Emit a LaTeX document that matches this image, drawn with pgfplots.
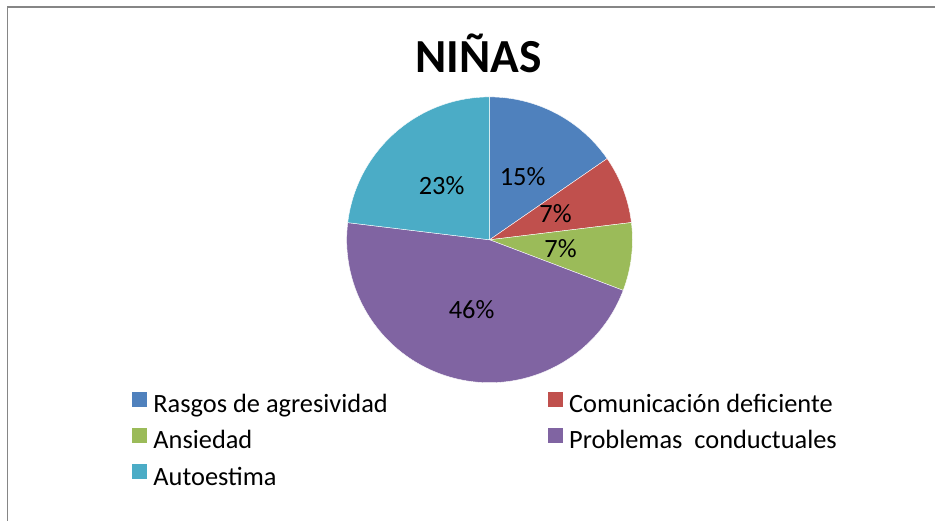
\documentclass[border=0pt]{standalone}
\usepackage{pgfplots}
\usepackage{pgfplotstable}
\pgfplotsset{compat=1.18}
\usepackage{fontspec}
\setmainfont{Carlito}
\definecolor{c1}{HTML}{4F81BD}
\definecolor{c2}{HTML}{C0504D}
\definecolor{c3}{HTML}{9BBB59}
\definecolor{c4}{HTML}{8064A2}
\definecolor{c5}{HTML}{4BACC6}
\definecolor{frame}{HTML}{868686}

\pgfplotstableread{
value label
15.38 15
7.69 7
7.69 7
46.15 46
23.08 23
}\pietable

\newcommand\getval[2]{\pgfplotstablegetelem{#1}{value}\of\pietable\global\let#2\pgfplotsretval}
\newcommand\getlab[2]{\pgfplotstablegetelem{#1}{label}\of\pietable\global\let#2\pgfplotsretval}
\getval{0}\vA \getval{1}\vB \getval{2}\vC \getval{3}\vD \getval{4}\vE
\getlab{0}\lA \getlab{1}\lB \getlab{2}\lC \getlab{3}\lD \getlab{4}\lE
\pgfmathsetmacro\tot{\vA+\vB+\vC+\vD+\vE}
\pgfmathsetmacro\aA{90}
\pgfmathsetmacro\aB{\aA-360*(\vA/\tot)}
\pgfmathsetmacro\aC{\aB-360*(\vB/\tot)}
\pgfmathsetmacro\aD{\aC-360*(\vC/\tot)}
\pgfmathsetmacro\aE{\aD-360*(\vD/\tot)}
\pgfmathsetmacro\aF{\aE-360*(\vE/\tot)}
\newcommand\lblfont{\fontsize{19.8pt}{23pt}\selectfont}

\begin{document}
\begin{tikzpicture}
\begin{axis}[
  x=0.75pt, y=0.75pt,
  xmin=0, xmax=936, ymin=0, ymax=521,
  hide axis, clip=false,
  legend columns=2,
  legend cell align=left,
  legend style={
    at={(axis cs:132,129)}, anchor=north west,
    draw=none, fill=none, inner sep=0pt, outer sep=0pt,
    font=\lblfont,
    nodes={inner sep=0pt, text height=14pt, text depth=4pt},
    row sep=7.6pt,
    /tikz/every odd column/.append style={column sep=5.25pt},
    /tikz/every even column/.append style={column sep=120pt},
  },
]
\path (axis cs:0,0) rectangle (axis cs:936,521);
\draw[frame, line width=1.2pt] (axis cs:7.7,0) -- (axis cs:7.7,514) -- (axis cs:936,514);

\fill[c1, draw=white, line width=0.3pt] (axis cs:490,281) -- ([shift={(\aA:107.25pt)}]axis cs:490,281) arc[start angle=\aA, end angle=\aB, radius=107.25pt] -- cycle;
\fill[c2, draw=white, line width=0.3pt] (axis cs:490,281) -- ([shift={(\aB:107.25pt)}]axis cs:490,281) arc[start angle=\aB, end angle=\aC, radius=107.25pt] -- cycle;
\fill[c3, draw=white, line width=0.3pt] (axis cs:490,281) -- ([shift={(\aC:107.25pt)}]axis cs:490,281) arc[start angle=\aC, end angle=\aD, radius=107.25pt] -- cycle;
\fill[c4, draw=white, line width=0.3pt] (axis cs:490,281) -- ([shift={(\aD:107.25pt)}]axis cs:490,281) arc[start angle=\aD, end angle=\aE, radius=107.25pt] -- cycle;
\fill[c5, draw=white, line width=0.3pt] (axis cs:490,281) -- ([shift={(\aE:107.25pt)}]axis cs:490,281) arc[start angle=\aE, end angle=\aF, radius=107.25pt] -- cycle;

\node[font=\lblfont, inner sep=0pt, anchor=base] at (axis cs:523,335) {\lA\%};
\node[font=\lblfont, inner sep=0pt, anchor=base] at (axis cs:556,298) {\lB\%};
\node[font=\lblfont, inner sep=0pt, anchor=base] at (axis cs:561,263) {\lC\%};
\node[font=\lblfont, inner sep=0pt, anchor=base] at (axis cs:472,202) {\lD\%};
\node[font=\lblfont, inner sep=0pt, anchor=base] at (axis cs:442,326) {\lE\%};

\node[font=\bfseries\fontsize{35.6pt}{42pt}\selectfont, inner sep=0pt, anchor=base] at (axis cs:479,448) {NIÑAS};

\addlegendimage{legend image code/.code={\fill[c1] (0pt,0pt) rectangle (10.5pt,10.5pt);}}
\addlegendentry{Rasgos de agresividad}
\addlegendimage{legend image code/.code={\fill[c2] (0pt,0pt) rectangle (10.5pt,10.5pt);}}
\addlegendentry{Comunicación deficiente}
\addlegendimage{legend image code/.code={\fill[c3] (0pt,0pt) rectangle (10.5pt,10.5pt);}}
\addlegendentry{Ansiedad}
\addlegendimage{legend image code/.code={\fill[c4] (0pt,0pt) rectangle (10.5pt,10.5pt);}}
\addlegendentry{Problemas~~conductuales}
\addlegendimage{legend image code/.code={\fill[c5] (0pt,0pt) rectangle (10.5pt,10.5pt);}}
\addlegendentry{Autoestima}
\end{axis}
\end{tikzpicture}
\end{document}
